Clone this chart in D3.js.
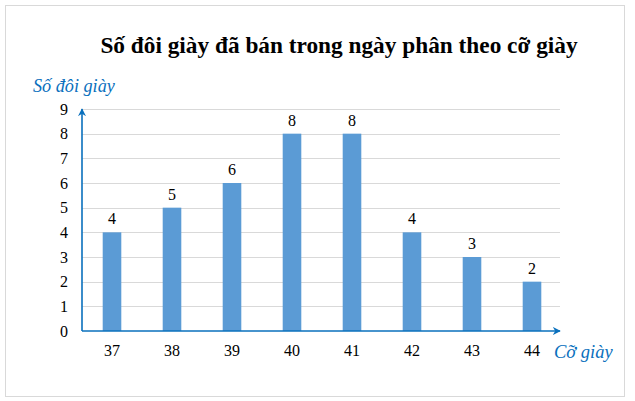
<!DOCTYPE html>
<html>
<head>
<meta charset="utf-8">
<script src="https://cdn.jsdelivr.net/npm/d3@7"></script>
<style>
  body { margin: 0; background: #fff; }
  svg { display: block; font-family: "Liberation Serif", "Times New Roman", serif; }
</style>
</head>
<body>
<svg id="chart" width="635" height="401"></svg>
<script>
// data
var sizes = ['37', '38', '39', '40', '41', '42', '43', '44'];
var pairs = [4, 5, 6, 8, 8, 4, 3, 2];
var yTicks = [0, 1, 2, 3, 4, 5, 6, 7, 8, 9];

var svg = d3.select('#chart');
var plotLeft = 82, plotRight = 562, plotTop = 109, plotBottom = 331;
var blue = '#0a70bd';

// outer frame
svg.append('rect')
    .attr('x', 5.5).attr('y', 5.5)
    .attr('width', 619).attr('height', 391)
    .attr('fill', 'none')
    .attr('stroke', '#d9d9d9');

svg.append('text')
    .attr('x', 339).attr('y', 53)
    .attr('text-anchor', 'middle')
    .style('font-size', '23.3px')
    .style('font-weight', 'bold')
    .text('Số đôi giày đã bán trong ngày phân theo cỡ giày');

var x = d3.scaleBand().domain(sizes).range([plotLeft, plotRight]).paddingInner(0.69).paddingOuter(0.345);
var y = d3.scaleLinear().domain([0, 9]).range([plotBottom, plotTop]);

// gridlines
svg.append('g').selectAll('line')
    .data(yTicks.slice(1))
    .join('line')
    .attr('x1', plotLeft).attr('x2', plotRight - 2)
    .attr('y1', function(d){ return Math.round(y(d)) + 0.5; })
    .attr('y2', function(d){ return Math.round(y(d)) + 0.5; })
    .attr('stroke', '#d9d9d9');

// y tick labels
var yAxis = svg.append('g')
    .attr('transform', 'translate(' + plotLeft + ',0)')
    .call(d3.axisLeft(y).tickValues(yTicks).tickSize(0).tickPadding(14));
yAxis.select('.domain').remove();
yAxis.selectAll('text')
    .style('font-family', '"Liberation Serif", serif')
    .style('font-size', '16px')
    .attr('fill', '#000');

// bars
svg.append('g').selectAll('rect')
    .data(pairs)
    .join('rect')
    .attr('x', function(d, i){ return x(sizes[i]); })
    .attr('y', function(d){ return y(d); })
    .attr('width', x.bandwidth())
    .attr('height', function(d){ return plotBottom - y(d); })
    .attr('fill', '#5b9bd5');

// value labels
svg.append('g').selectAll('text')
    .data(pairs)
    .join('text')
    .attr('x', function(d, i){ return x(sizes[i]) + x.bandwidth() / 2; })
    .attr('y', function(d){ return y(d) - 8; })
    .attr('text-anchor', 'middle')
    .style('font-size', '16px')
    .text(function(d){ return d; });

// x tick labels
var xAxis = svg.append('g')
    .attr('transform', 'translate(0,' + plotBottom + ')')
    .call(d3.axisBottom(x).tickSize(0).tickPadding(14));
xAxis.select('.domain').remove();
xAxis.selectAll('text')
    .style('font-family', '"Liberation Serif", serif')
    .style('font-size', '16px')
    .attr('fill', '#000');

// axes with arrows
var defs = svg.append('defs');
defs.append('marker')
    .attr('id', 'arrow')
    .attr('viewBox', '0 0 10 10')
    .attr('refX', 9).attr('refY', 5)
    .attr('markerWidth', 5).attr('markerHeight', 5)
    .attr('markerUnits', 'strokeWidth')
    .attr('orient', 'auto')
    .append('path')
    .attr('d', 'M0,0 L10,5 L0,10 L3,5 Z')
    .attr('fill', blue);

svg.append('line')
    .attr('x1', plotLeft).attr('y1', plotBottom)
    .attr('x2', plotRight - 2).attr('y2', plotBottom)
    .attr('stroke', blue).attr('stroke-width', 1.6)
    .attr('marker-end', 'url(#arrow)');
svg.append('line')
    .attr('x1', plotLeft).attr('y1', plotBottom)
    .attr('x2', plotLeft).attr('y2', plotTop)
    .attr('stroke', blue).attr('stroke-width', 1.6)
    .attr('marker-end', 'url(#arrow)');

// axis titles
svg.append('text')
    .attr('x', 33).attr('y', 92)
    .attr('fill', blue)
    .style('font-size', '18.2px')
    .style('font-style', 'italic')
    .text('Số đôi giày');
svg.append('text')
    .attr('x', 554).attr('y', 358)
    .attr('fill', blue)
    .style('font-size', '18.5px')
    .style('font-style', 'italic')
    .text('Cỡ giày');
</script>
</body>
</html>
